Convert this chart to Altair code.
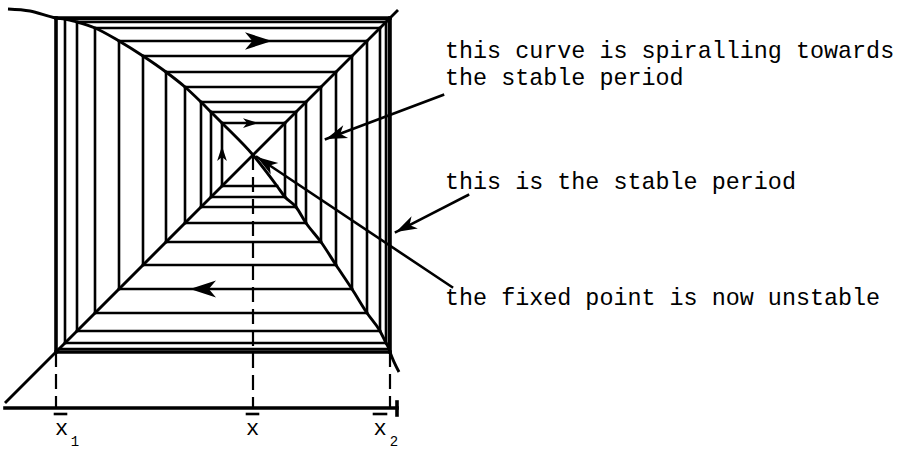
import altair as alt
import pandas as pd

# Cobweb iterates, innermost first: left-hand values and right-hand values
start_iterate = 277
left_iterates = [222, 211, 201, 185, 166, 143, 119, 95, 77, 65, 59]
right_iterates = [285, 296, 306, 321, 336, 352, 367, 380, 386, 389]

fixed_point = 253
period_low, period_high = 56, 390          # the stable period-2 orbit

# ends of the map curve beyond the period-2 orbit
f_tail_x = [8, 30, 399]
f_tail_y = [399, 397, 36]
identity_ends = [5, 398]

axis_start, axis_end = 5, 397

annotations = [
    ("this curve is spiralling towards", 445, 350),
    ("the stable period", 445, 323),
    ("this is the stable period", 445, 219),
    ("the fixed point is now unstable", 445, 103),
]
# pointer lines: start (x, y) -> tip (x, y)
pointers = [
    (443, 313, 326, 269),
    (468, 213, 396, 176),
    (452, 121, 257, 251),
]
# arrow heads: tip x, tip y, direction (deg, clockwise), length
heads = [
    (272, 367, 0, 27),
    (190, 119, 180, 26),
    (258, 285, 0, 15),
    (222, 262, 270, 15),
    (326, 269, 159.4, 21),
    (396, 176, 152.8, 21),
    (257, 251, 213.6, 21),
]
big_labels = [("x", 61.5, -27), ("x", 252.5, -27), ("x", 380, -27)]
sub_labels = [("1", 75, -38), ("2", 394, -38)]
bars = [(55, 66), (247, 258), (374, 386)]
bar_y = -6

# ---- build the cobweb path (starts on the curve, first move is horizontal)
seq = [start_iterate]
for k in range(len(right_iterates)):
    seq += [left_iterates[k], right_iterates[k]]
seq.append(left_iterates[-1])

thin = []
for n, (a, b) in enumerate(zip(seq[:-1], seq[1:])):
    if n > 0:
        thin.append(dict(x=a, y=a, x2=a, y2=b))
    thin.append(dict(x=a, y=b, x2=b, y2=b))
# pointer lines
for (x, y, x2, y2) in pointers:
    thin.append(dict(x=x, y=y, x2=x2, y2=y2))
# overbars of the labels
for (a, b) in bars:
    thin.append(dict(x=a, y=bar_y, x2=b, y2=bar_y))
thin_df = pd.DataFrame(thin)

lo, hi = period_low, period_high
thick = [dict(x=x, y=y, x2=x2, y2=y2) for (x, y, x2, y2) in
         [(lo, lo, lo, hi), (lo, hi, hi, hi), (hi, hi, hi, lo), (hi, lo, lo, lo)]]
# axis and its end tick
thick.append(dict(x=axis_start, y=0, x2=axis_end, y2=0))
thick.append(dict(x=axis_end, y=6, x2=axis_end, y2=-7))
thick_df = pd.DataFrame(thick)

dashed = pd.DataFrame([
    dict(x=lo, y=lo, x2=lo, y2=0),
    dict(x=fixed_point, y=fixed_point, x2=fixed_point, y2=0),
    dict(x=hi, y=lo, x2=hi, y2=0),
])

# ---- the map curve through the cobweb corners
pts = list(zip(f_tail_x, f_tail_y))
pts += [(lo, hi), (hi, lo), (fixed_point, fixed_point)]
pts += list(zip(seq[:-1], seq[1:]))
pts.sort()
curve = pd.DataFrame(pts, columns=["x", "y"])
curve["i"] = range(len(curve))
diag = pd.DataFrame({"x": identity_ends, "y": identity_ends})

xs = alt.Scale(domain=[0, 913], nice=False, zero=False)
ys = alt.Scale(domain=[-41, 408], nice=False, zero=False)
X = lambda: alt.X("x:Q", scale=xs, axis=None)
Y = lambda: alt.Y("y:Q", scale=ys, axis=None)

thin_rules = alt.Chart(thin_df).mark_rule(
    color="black", strokeWidth=2.6, strokeCap="square").encode(
    x=X(), y=Y(), x2="x2:Q", y2="y2:Q")
thick_rules = alt.Chart(thick_df).mark_rule(
    color="black", strokeWidth=3.6, strokeCap="square").encode(
    x=X(), y=Y(), x2="x2:Q", y2="y2:Q")
dash = alt.Chart(dashed).mark_rule(color="black", strokeWidth=2.2,
                                     strokeDash=[15, 7]).encode(
    x=X(), y=Y(), x2="x2:Q", y2="y2:Q")

fline = alt.Chart(curve).mark_line(color="black", strokeWidth=2.9,
                                    interpolate="monotone").encode(
    x=X(), y=Y(), order="i:Q")
idline = alt.Chart(diag).mark_line(color="black", strokeWidth=2.9).encode(
    x=X(), y=Y())

head_df = pd.DataFrame(heads, columns=["x", "y", "ang", "len"])
head_df["size"] = head_df["len"] ** 2
head_mark = alt.Chart(head_df).mark_point(
    shape="M0,0 L-2,-0.65 L-1.45,0 L-2,0.65 Z", filled=True, color="black",
    opacity=1, strokeWidth=0).encode(
    x=X(), y=Y(),
    angle=alt.Angle("ang:Q", scale=None, legend=None),
    size=alt.Size("size:Q", scale=None, legend=None),
)

ann_df = pd.DataFrame(annotations, columns=["t", "x", "y"])
ann = alt.Chart(ann_df).mark_text(font="Liberation Mono", fontSize=23.4,
                                   align="left", baseline="alphabetic",
                                   color="black").encode(
    x=X(), y=Y(), text="t:N")

big_df = pd.DataFrame(big_labels, columns=["t", "x", "y"])
big = alt.Chart(big_df).mark_text(font="Liberation Mono", fontSize=22,
                                   align="center", baseline="alphabetic",
                                   color="black").encode(x=X(), y=Y(), text="t:N")
sub_df = pd.DataFrame(sub_labels, columns=["t", "x", "y"])
sub = alt.Chart(sub_df).mark_text(font="Liberation Mono", fontSize=14,
                                   align="center", baseline="alphabetic",
                                   color="black").encode(x=X(), y=Y(), text="t:N")

chart = alt.layer(dash, thin_rules, thick_rules, fline, idline, head_mark,
                  ann, big, sub).properties(
    width=913, height=449, padding=0,
    autosize=alt.AutoSizeParams(type="none"),
    background="white",
).configure_view(strokeWidth=0)

chart.save("out.html", embed_options={"renderer": "svg", "actions": False})
